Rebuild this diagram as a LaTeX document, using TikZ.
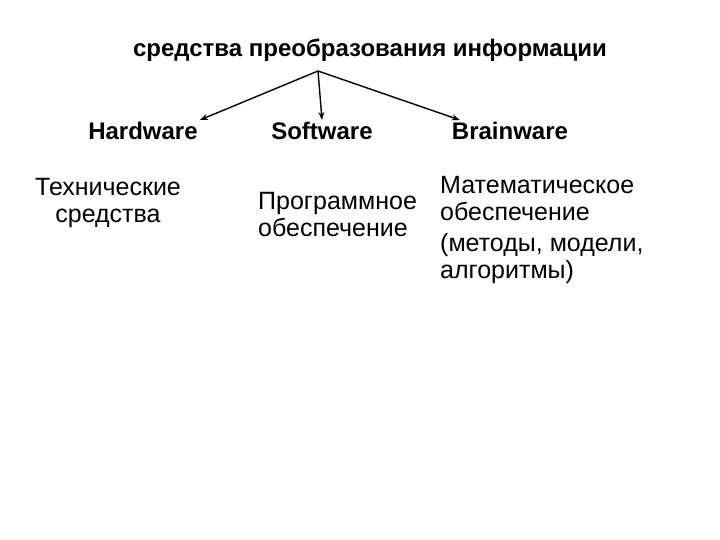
\documentclass[tikz,border=0pt]{standalone}
\usepackage{fontspec}
\setmainfont{Liberation Sans}
\usetikzlibrary{arrows.meta}
\begin{document}
\begin{tikzpicture}[
		x=1pt, y=-1pt,
		head/.style={font=\fontsize{24}{27}\selectfont\bfseries, inner sep=2pt},
		body/.style={font=\fontsize{25}{27}\selectfont, inner sep=0pt},
		link/.style={-{Stealth[length=8pt,width=6pt]}, line width=1.4pt}
	]
	\useasboundingbox (0,0) rectangle (720,540);
	\node[head] (title) at (370,50) {средства преобразования информации};
	\coordinate (root) at (318,71);

	\node[head] (hw) at (143,131) {Hardware};
	\node[head] (sw) at (322,131) {Software};
	\node[head] (bw) at (510,131) {Brainware};

	\node[body, align=center] (hwtext) at (108,203) {Технические\\средства};
	\node[body, align=left, anchor=west] (swtext) at (258,215) {Программное\\обеспечение};
	\node[body, align=left, anchor=north west] (bwtext) at (440,176) {Математическое\\обеспечение\\[4pt](методы, модели,\\алгоритмы)};

	\draw[link] (root) -- (hw.north east);
	\draw[link] (root) -- (sw.north);
	\draw[link] (root) -- ([xshift=10pt]bw.north west);
\end{tikzpicture}
\end{document}
